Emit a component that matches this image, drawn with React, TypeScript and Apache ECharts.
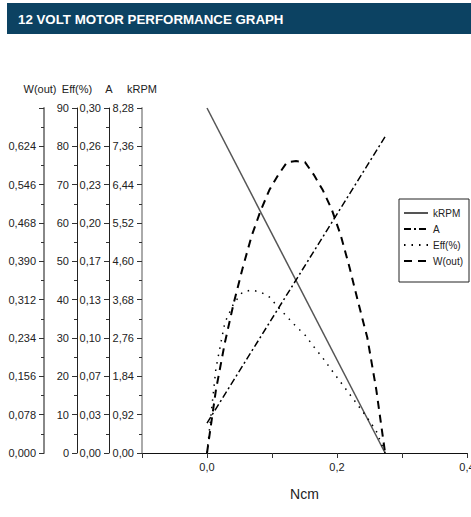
import React, { useEffect, useRef } from "react";
import * as echarts from "echarts";

// ---- data ----
const torqueNcm = [0, 0.0137, 0.0274, 0.0411, 0.0548, 0.0685, 0.0822, 0.0959, 0.1096, 0.1233, 0.137, 0.1507, 0.1644, 0.1781, 0.1918, 0.2055, 0.2192, 0.2329, 0.2466, 0.2603, 0.274];
const wOutValues = [0, 0.128, 0.224, 0.305, 0.376, 0.441, 0.492, 0.535, 0.566, 0.592, 0.594, 0.592, 0.566, 0.535, 0.496, 0.444, 0.378, 0.305, 0.235, 0.13, 0];
const effValues = [0, 22, 34, 39, 42, 42.5, 42, 40.7, 38, 35.5, 33, 30.8, 27.7, 24.8, 21.6, 18.5, 15.4, 12.3, 9.2, 5.8, 0];
const lineTorque = [0, 0.274];
const kRpmValues = [8.28, 0];
const ampValues = [0.026, 0.275];

const kRpmTicks = ["0,00", "0,92", "1,84", "2,76", "3,68", "4,60", "5,52", "6,44", "7,36", "8,28"];
const ampTicks = ["0,00", "0,03", "0,07", "0,10", "0,13", "0,17", "0,20", "0,23", "0,26", "0,30"];
const effTicks = ["0", "10", "20", "30", "40", "50", "60", "70", "80", "90"];
const wOutTicks = ["0,000", "0,078", "0,156", "0,234", "0,312", "0,390", "0,468", "0,546", "0,624", ""];
const xTickLabels: Record<string, string> = { "0": "0,0", "2": "0,2", "4": "0,4" };

const TITLE = "12 VOLT MOTOR PERFORMANCE GRAPH";
const FONT = "'Liberation Sans', Arial, sans-serif";

function makeY(name: string, max: number, offset: number, labels: string[], lineColor: string, lineWidth: number, namePad: number[]) {
  const interval = max / 9;
  return {
    type: "value",
    name,
    nameLocation: "end",
    nameGap: 14,
    nameTextStyle: { fontFamily: FONT, fontSize: 11, color: "#222", padding: namePad },
    position: "left",
    offset,
    min: 0,
    max,
    interval,
    splitLine: { show: false },
    axisLine: { show: true, onZero: false, lineStyle: { color: lineColor, width: lineWidth } },
    axisTick: { show: true, inside: false, length: 5, lineStyle: { color: "#333", width: 1 } },
    minorTick: { show: true, splitNumber: 2, length: 3, lineStyle: { color: "#333", width: 1 } },
    axisLabel: {
      margin: 8,
      fontFamily: FONT,
      fontSize: 11,
      color: "#222",
      formatter: (v: number) => labels[Math.round(v / interval)] ?? "",
    },
  };
}

export default function App() {
  const ref = useRef<HTMLDivElement>(null);
  useEffect(() => {
    if (!ref.current) return;
    const chart = echarts.init(ref.current, undefined, { renderer: "svg" });
    const pairs = (xs: number[], ys: number[]) => xs.map((x, i) => [x, ys[i]]);
    chart.setOption({
      animation: false,
      backgroundColor: "#fff",
      textStyle: { fontFamily: FONT },
      graphic: [
        { type: "rect", shape: { x: 7, y: 3, width: 464, height: 31 }, style: { fill: "#0c4262" } },
        {
          type: "text",
          x: 18,
          y: 19,
          style: { text: TITLE, fill: "#fff", font: `bold 13.3px ${FONT}`, verticalAlign: "middle" },
        },
      ],
      legend: {
        orient: "vertical",
        left: 399,
        top: 199,
        padding: [9, 6, 16, 4],
        itemWidth: 24,
        itemHeight: 10,
        itemGap: 6,
        borderColor: "#222",
        borderWidth: 1,
        itemStyle: { opacity: 0, borderWidth: 0 },
        textStyle: { fontFamily: FONT, fontSize: 10, color: "#222" },
        data: ["kRPM", "A", "Eff(%)", "W(out)"],
      },
      grid: { left: 142, right: 4, top: 108, bottom: 64, containLabel: false, outerBoundsMode: "none" },
      xAxis: {
        type: "value",
        min: -0.1,
        max: 0.4,
        interval: 0.1,
        name: "Ncm",
        nameLocation: "middle",
        nameGap: 34,
        nameTextStyle: { fontFamily: FONT, fontSize: 14, color: "#222" },
        splitLine: { show: false },
        axisLine: { onZero: false, lineStyle: { color: "#111", width: 1 } },
        axisTick: { show: true, length: 5, lineStyle: { color: "#333" } },
        axisLabel: {
          margin: 8,
          fontFamily: FONT,
          fontSize: 11,
          color: "#222",
          showMaxLabel: true,
          formatter: (v: number) => xTickLabels[String(Math.round(v * 10))] ?? "",
        },
      },
      yAxis: [
        makeY("kRPM", 8.28, 0, kRpmTicks, "#aaa", 2, [0, 0, 0, 0]),
        makeY("A", 0.3, 33, ampTicks, "#222", 1, [0, 0, 0, 0]),
        makeY("Eff(%)", 90, 65, effTicks, "#222", 1, [0, 0, 0, 0]),
        makeY("W(out)", 0.702, 98, wOutTicks, "#888", 2, [0, 8, 0, 0]),
      ],
      series: [
        {
          name: "kRPM",
          type: "line",
          yAxisIndex: 0,
          data: pairs(lineTorque, kRpmValues),
          showSymbol: false,
          symbol: "none",
          color: "#555",
          lineStyle: { color: "#555", width: 1.5, type: "solid" },
        },
        {
          name: "A",
          type: "line",
          yAxisIndex: 1,
          data: pairs(lineTorque, ampValues),
          showSymbol: false,
          symbol: "none",
          color: "#000",
          lineStyle: { color: "#000", width: 1.5, type: [7, 3, 2, 3] },
        },
        {
          name: "Eff(%)",
          type: "line",
          yAxisIndex: 2,
          data: pairs(torqueNcm, effValues),
          showSymbol: false,
          symbol: "none",
          color: "#000",
          lineStyle: { color: "#000", width: 1.5, type: [1.5, 6] },
        },
        {
          name: "W(out)",
          type: "line",
          yAxisIndex: 3,
          data: pairs(torqueNcm, wOutValues),
          showSymbol: false,
          symbol: "none",
          color: "#000",
          lineStyle: { color: "#000", width: 2, type: [8, 6] },
        },
      ],
    });
    return () => chart.dispose();
  }, []);
  return <div ref={ref} style={{ position: "absolute", left: 0, top: 0, width: 471, height: 517 }} />;
}
